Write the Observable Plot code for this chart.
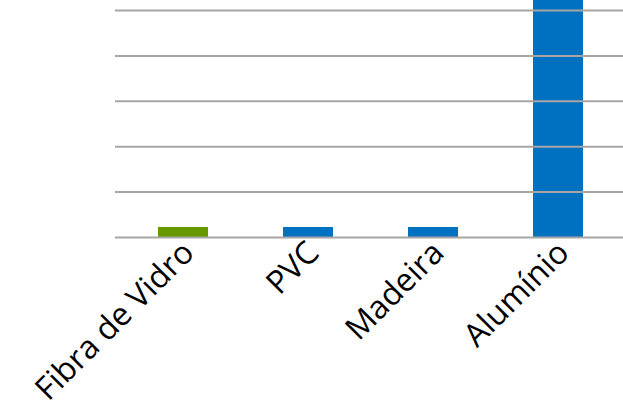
<!DOCTYPE html>
<html>
<head>
<meta charset="utf-8">
<script src="https://cdn.jsdelivr.net/npm/d3@7"></script>
<script src="https://cdn.jsdelivr.net/npm/@observablehq/plot@0.6"></script>
<style>
  html, body { margin: 0; padding: 0; background: #fff; }
  #chart svg { display: block; }
</style>
</head>
<body>
<div id="chart"></div>
<script>
const categories = ["Fibra de Vidro", "PVC", "Madeira", "Alumínio"];
const values = [0.22, 0.22, 0.22, 6];
const series = ["Fibra", "Outro", "Outro", "Outro"];
const gridTicks = [0, 1, 2, 3, 4, 5];

const data = categories.map((c, i) => ({ category: c, value: values[i], series: series[i] }));

const chart = Plot.plot({
  width: 623,
  height: 401,
  marginLeft: 115,
  marginRight: 0,
  marginTop: 0,
  marginBottom: 164,
  style: { fontFamily: "'Open Sans', sans-serif", background: "#fff", overflow: "hidden" },
  x: { domain: categories, paddingInner: 0.6, paddingOuter: 0.3, insetLeft: 4.2, insetRight: 0.6, label: null },
  y: { domain: [0, 5.22], axis: null },
  color: { domain: ["Fibra", "Outro"], range: ["#669900", "#0070C0"] },
  marks: [
    Plot.barY(data, { x: "category", y: "value", fill: "series", clip: true }),
    Plot.ruleY(gridTicks, { stroke: "#A6A6A6", strokeWidth: 2 }),
    Plot.axisX({ tickRotate: -45, tickSize: 0, tickPadding: 8, dx: 5, dy: 2, fontSize: 32, fill: "#000", label: null })
  ]
});
document.getElementById("chart").appendChild(chart);
</script>
</body>
</html>
